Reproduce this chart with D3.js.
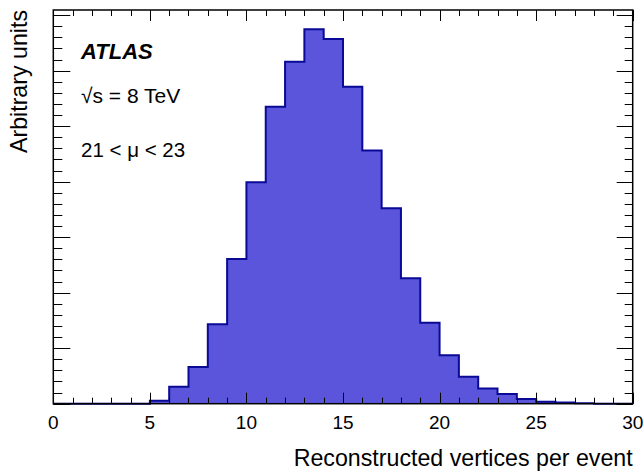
<!DOCTYPE html>
<html>
<head>
<meta charset="utf-8">
<script src="https://cdn.jsdelivr.net/npm/d3@7/dist/d3.min.js"></script>
<style>
  html, body { margin: 0; padding: 0; background: #fff; }
  svg text { font-family: "Liberation Sans", Arial, Helvetica, sans-serif; fill: #000; }
</style>
</head>
<body>
<svg id="chart" width="644" height="474"></svg>
<script>
// Bin lower edges (reconstructed vertices per event), bin width 1
const binEdges = d3.range(0, 31);
// Normalized bin contents (arbitrary units)
const binValues = [
  0, 0, 0, 0, 0,
  0.0011, 0.0061, 0.0132, 0.0286, 0.0521,
  0.0798, 0.1070, 0.1232, 0.1349, 0.1314,
  0.1142, 0.0912, 0.0704, 0.0452, 0.0292,
  0.0175, 0.0097, 0.0055, 0.0035, 0.0017,
  0.0007, 0.0004, 0.0002, 0, 0
];
const xTickLabels = ["0", "5", "10", "15", "20", "25", "30"];
const labels = ["ATLAS", "\u221As = 8 TeV", "21 < \u03BC < 23"];
const xTitle = "Reconstructed vertices per event";
const yTitle = "Arbitrary units";

const svg = d3.select("#chart");
const L = 53.3, R = 632.7, T = 10, B = 403.7;
const x = d3.scaleLinear().domain([0, 30]).range([L, R]);
const y = d3.scaleLinear().domain([0, 0.14187]).range([B, T]);

// histogram
const pts = [[0, 0]];
binValues.forEach((v, i) => pts.push([binEdges[i], v]));
pts.push([30, binValues[binValues.length - 1]]);
pts.push([30, 0]);
const line = d3.line().x(d => x(d[0])).y(d => y(d[1])).curve(d3.curveStepAfter);
svg.append("path").attr("d", line(pts) + "Z")
  .attr("fill", "#5a55da").attr("stroke", "none");
svg.append("path").attr("d", line(pts))
  .attr("fill", "none").attr("stroke", "#0a0a96").attr("stroke-width", 2)
  .attr("stroke-linejoin", "miter");

// axes ticks
const g = svg.append("g").attr("stroke", "#000").attr("stroke-width", 1);
const xMinor = d3.range(0, 31, 1);
xMinor.forEach(v => {
  const major = v % 5 === 0;
  const len = major ? 11 : 6;
  const xx = Math.round(x(v)) + 0.5;
  g.append("line").attr("x1", xx).attr("x2", xx).attr("y1", B).attr("y2", B - len);
  g.append("line").attr("x1", xx).attr("x2", xx).attr("y1", T).attr("y2", T + len);
});
const yMinor = d3.range(0, 36).map(i => i * 0.004).filter(v => v <= 0.1419);
yMinor.forEach((v, i) => {
  const major = i % 5 === 0;
  const yy = Math.round(y(v)) + 0.5;
  g.append("line").attr("x1", L).attr("x2", L + (major ? 17 : 9)).attr("y1", yy).attr("y2", yy);
  g.append("line").attr("x1", R).attr("x2", R - (major ? 16 : 8)).attr("y1", yy).attr("y2", yy);
});

// frame
svg.append("rect").attr("x", L).attr("y", T).attr("width", R - L).attr("height", B - T)
  .attr("fill", "none").attr("stroke", "#000").attr("stroke-width", 1.5);

// tick labels
xTickLabels.forEach(t => {
  svg.append("text").attr("x", x(+t)).attr("y", 428.5)
    .attr("text-anchor", "middle").attr("font-size", 19).text(t);
});

// titles
svg.append("text").attr("x", R).attr("y", 466).attr("text-anchor", "end")
  .attr("font-size", 23.2).text(xTitle);
svg.append("text").attr("transform", "translate(27,10) rotate(-90)")
  .attr("text-anchor", "end").attr("font-size", 23.2).text(yTitle);

// labels
svg.append("text").attr("x", 81).attr("y", 59.3).attr("font-size", 22)
  .attr("font-weight", "bold").attr("font-style", "italic").text(labels[0]);
svg.append("text").attr("x", 81).attr("y", 103.3).attr("font-size", 21).text(labels[1]);
svg.append("text").attr("x", 81).attr("y", 156.7).attr("font-size", 20.5).text(labels[2]);
</script>
</body>
</html>
